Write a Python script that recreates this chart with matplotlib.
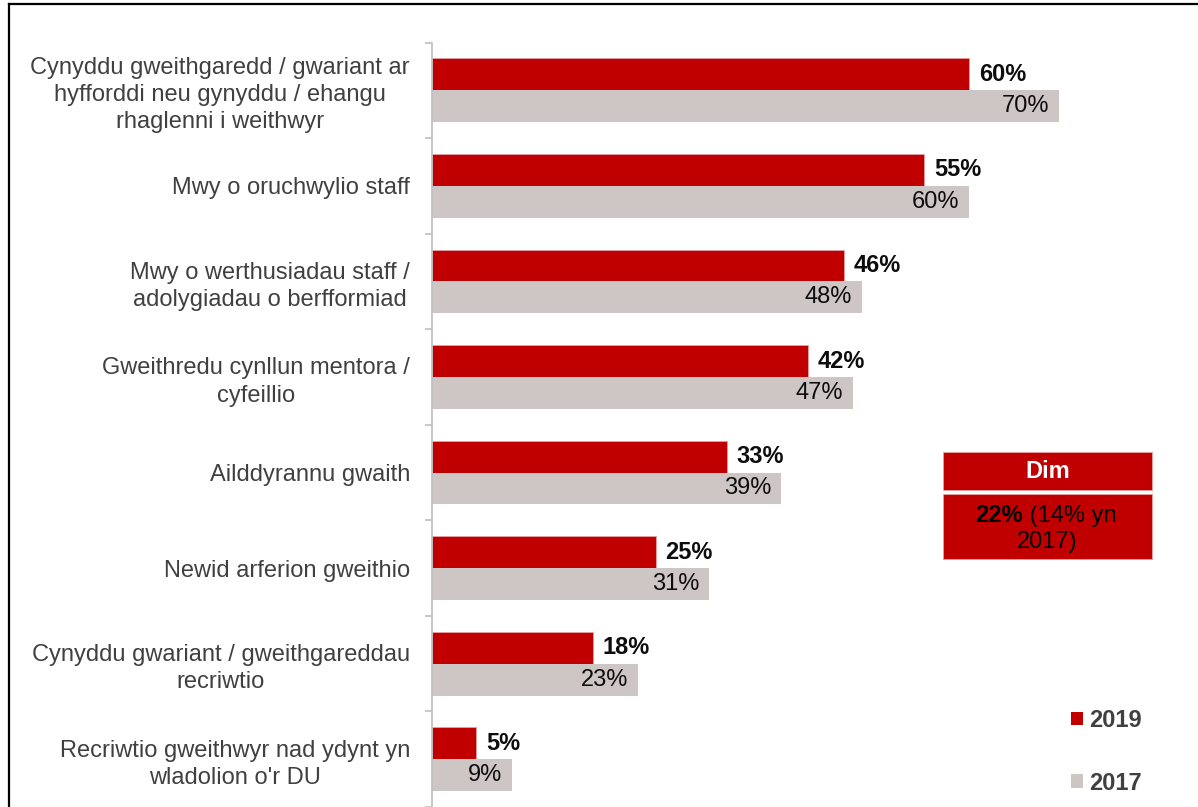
import matplotlib
matplotlib.use('Agg')
import numpy as np
import matplotlib.pyplot as plt
from matplotlib.patches import Rectangle, Patch
from matplotlib.lines import Line2D

# survey answers, top to bottom
categories = [
    'Cynyddu gweithgaredd / gwariant ar\nhyfforddi neu gynyddu / ehangu\nrhaglenni i weithwyr',
    'Mwy o oruchwylio staff',
    'Mwy o werthusiadau staff /\nadolygiadau o berfformiad',
    'Gweithredu cynllun mentora /\ncyfeillio',
    'Ailddyrannu gwaith',
    'Newid arferion gweithio',
    'Cynyddu gwariant / gweithgareddau\nrecriwtio',
    'Recriwtio gweithwyr nad ydynt yn\nwladolion o\'r DU',
]
pct_2019 = [60, 55, 46, 42, 33, 25, 18, 5]
pct_2017 = [70, 60, 48, 47, 39, 31, 23, 9]
years = ['2019', '2017']
none_2019 = 22
none_2017 = 14

RED = '#C00000'
GREY = '#CEC5C5'
TXT = '#404040'

plt.rcParams['font.family'] = ['Liberation Sans', 'DejaVu Sans']

W, H = 1198, 807
fig = plt.figure(figsize=(W / 100, H / 100), dpi=100)


def fx(x):
    return x / W


def fy(y):
    return 1 - y / H


ax = fig.add_axes([fx(431.5), 0, 1 - fx(431.5), 1 - 42.5 / H])

n = len(categories)
pos = np.arange(n)
bh = 1 / 3
ax.barh(pos - bh / 2, pct_2019, height=bh, color=RED, edgecolor='#e8a0a0', linewidth=0.6)
ax.barh(pos + bh / 2, pct_2017, height=bh, color=GREY, edgecolor='none')

ax.set_xlim(0, (W - 431.5) / 8.96)
ax.set_ylim(n - 0.5, -0.5)

for i in range(n):
    ax.annotate(f'{pct_2019[i]}%', (pct_2019[i], pos[i] - bh / 2), xytext=(7, 0),
                textcoords='offset points', ha='left', va='center',
                fontsize=17, fontweight='bold', color='#0d0d0d')
    ax.annotate(f'{pct_2017[i]}%', (pct_2017[i], pos[i] + bh / 2), xytext=(-7, 0),
                textcoords='offset points', ha='right', va='center',
                fontsize=17, color='#0d0d0d')

# axis styling
for s in ['top', 'right', 'bottom']:
    ax.spines[s].set_visible(False)
ax.spines['left'].set_color('#bfbfbf')
ax.spines['left'].set_linewidth(1.2)
ax.set_xticks([])
ax.set_yticks(pos)
ax.set_yticklabels(categories, fontsize=17, color=TXT)
ax.tick_params(axis='y', which='major', length=0, pad=15.5)
plt.setp(ax.get_yticklabels(), multialignment='center', linespacing=1.3)
ax.set_yticks(np.arange(n + 1) - 0.5, minor=True)
ax.tick_params(axis='y', which='minor', length=5.4, color='#bfbfbf', width=1.2)

# legend
handles = [Patch(facecolor=RED, label=years[0]), Patch(facecolor=GREY, label=years[1])]
leg = ax.legend(handles=handles, loc='upper left', bbox_to_anchor=(fx(1071), fy(709)),
                bbox_transform=fig.transFigure, frameon=False, borderpad=0, borderaxespad=0,
                handlelength=0.51, handleheight=0.51, handletextpad=0.25, labelspacing=1.68,
                prop={'size': 17, 'weight': 'bold'})
for t in leg.get_texts():
    t.set_color(TXT)

# "Dim" call-out box
bx0, bx1 = 942.7, 1152
fig.add_artist(Rectangle((fx(bx0), fy(490)), fx(bx1 - bx0), (490 - 452) / H,
                         transform=fig.transFigure, facecolor=RED, edgecolor='#e8a0a0', lw=0.6))
fig.add_artist(Rectangle((fx(bx0), fy(559)), fx(bx1 - bx0), (559 - 494) / H,
                         transform=fig.transFigure, facecolor=RED, edgecolor='#e8a0a0', lw=0.6))
fig.text(fx((bx0 + bx1) / 2), fy(471), 'Dim', ha='center', va='center',
         fontsize=17, fontweight='bold', color='white')
fig.text(fx(1023), fy(516), f'{none_2019}%', ha='right', va='center',
         fontsize=17, fontweight='bold', color='black')
fig.text(fx(1023), fy(516), f' ({none_2017}% yn', ha='left', va='center',
         fontsize=17, color='black')
fig.text(fx((bx0 + bx1) / 2), fy(542), '2017)', ha='center', va='center',
         fontsize=17, color='black')

# outer frame
fig.add_artist(Line2D([fx(9), fx(9)], [0, fy(4)], transform=fig.transFigure, color='black', lw=1.6))
fig.add_artist(Line2D([fx(9), 1], [fy(4), fy(4)], transform=fig.transFigure, color='black', lw=1.6))

fig.savefig('out.png', dpi=100)
